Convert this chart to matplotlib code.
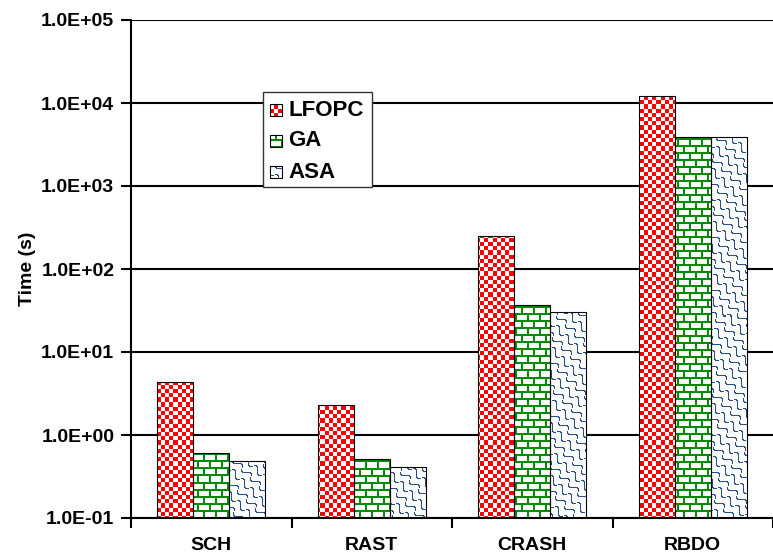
import numpy as np
import matplotlib
matplotlib.use('Agg')
import matplotlib.pyplot as plt
from matplotlib.patches import Rectangle
from matplotlib.ticker import FixedLocator, FuncFormatter, NullLocator

plt.rcParams['font.family'] = ['Liberation Sans', 'DejaVu Sans']
plt.rcParams['font.weight'] = 'bold'

categories = ['SCH', 'RAST', 'CRASH', 'RBDO']
series = ['LFOPC', 'GA', 'ASA']
lfopc = [4.3, 2.2, 250, 12000]
ga = [0.51, 0.42, 37, 3900]
asa = [0.38, 0.31, 30, 3900]
values = [lfopc, ga, asa]
yticks = [1e-1, 1e0, 1e1, 1e2, 1e3, 1e4, 1e5]

W, H = 773, 556
fig = plt.figure(figsize=(W / 100, H / 100), dpi=100)
left, right, top, bottom = 131, 773, 20, 518
ax = fig.add_axes([left / W, 1 - bottom / H, (right - left) / W, (bottom - top) / H])

# pixel patterns covering the whole axes, clipped to each bar later
aw, ah = right - left, bottom - top
yy, xx = np.mgrid[0:ah, 0:aw]


def pattern(mask, color):
    img = np.ones((ah, aw, 3))
    img[mask] = np.array(color) / 255.0
    return img


checker = pattern(((np.floor(xx / 4.2) + np.floor(yy / 4.2)) % 2) == 0, (255, 0, 0))
row = yy // 7
brick = pattern((yy % 7 < 2) | (((xx + (row % 2) * 6) % 12) < 2), (0, 140, 0))
u = xx - yy
v = xx + yy
wave = pattern(((u + 3.5 * np.sin(2 * np.pi * v / 18)) % 13) < 2.0, (40, 80, 140))
patterns = [checker, brick, wave]

ax.set_yscale('log')
ax.set_xlim(-0.5, 3.5)
ax.set_ylim(1e-1, 1e5)
ax.set_autoscale_on(False)

x = np.arange(len(categories))
width = 0.224
for i, vals in enumerate(values):
    bars = ax.bar(x + (i - 1) * width, vals, width, bottom=1e-1,
                  facecolor='none', edgecolor='black', linewidth=0.8, zorder=3)
    for b in bars:
        im = ax.imshow(patterns[i], extent=[0, 1, 0, 1], transform=ax.transAxes,
                       aspect='auto', interpolation='nearest', zorder=2)
        im.set_clip_path(b)

# grid and axes
ax.yaxis.set_major_locator(FixedLocator(yticks))
ax.yaxis.set_minor_locator(NullLocator())
ax.yaxis.set_major_formatter(FuncFormatter(lambda val, pos: f'{val:.1E}'))
ax.grid(axis='y', color='black', linewidth=1.5, zorder=1)
ax.set_axisbelow(True)
ax.set_xticks(np.arange(-0.5, 4, 1))
ax.set_xticklabels([])
ax.set_xticks(x, minor=True)
ax.set_xticklabels(categories, minor=True)
ax.tick_params(axis='x', which='major', length=7, width=1.5, direction='out')
ax.tick_params(axis='x', which='minor', length=0, pad=14, labelsize=14)
ax.tick_params(axis='y', length=7, width=1.5, direction='out', pad=5, labelsize=14)
for s in ['top', 'right']:
    ax.spines[s].set_visible(False)
for s in ['left', 'bottom']:
    ax.spines[s].set_linewidth(1.5)
ax.set_ylabel('Time (s)', fontsize=14, fontweight='bold', labelpad=4)

# legend drawn by hand so the swatches can carry the same patterns
def axfrac(px, py):
    return (px - left) / aw, 1 - (py - top) / ah

fx0, fy1 = axfrac(263, 92)
fx1, fy0 = axfrac(372, 187)
ax.add_patch(Rectangle((fx0, fy0), fx1 - fx0, fy1 - fy0, transform=ax.transAxes,
                       facecolor='white', edgecolor='#333333', linewidth=1, zorder=4))
for i, name in enumerate(series):
    cy = 110 + i * 31
    sx, sy = axfrac(270, cy + 6)
    sw = Rectangle((sx, sy), 12 / aw, 12 / ah, transform=ax.transAxes,
                   facecolor='none', edgecolor='black', linewidth=0.8, zorder=6)
    ax.add_patch(sw)
    im = ax.imshow(patterns[i], extent=[0, 1, 0, 1], transform=ax.transAxes,
                   aspect='auto', interpolation='nearest', zorder=5)
    im.set_clip_path(sw)
    tx, ty = axfrac(288, cy)
    ax.text(tx, ty, name, transform=ax.transAxes, fontsize=16, fontweight='bold',
            va='center', ha='left', zorder=6)

fig.savefig('out.png', dpi=100)
